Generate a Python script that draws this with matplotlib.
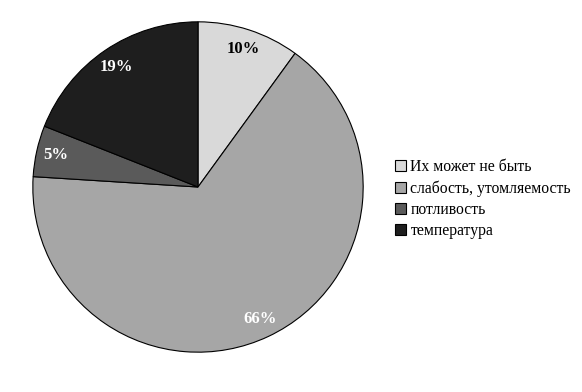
import matplotlib
matplotlib.use('Agg')
import matplotlib.pyplot as plt
from matplotlib.patches import Patch

labels = ['Их может не быть', 'слабость, утомляемость', 'потливость', 'температура']
values = [10, 66, 5, 19]
colors = ['#d9d9d9', '#a6a6a6', '#5a5a5a', '#1e1e1e']
text_colors = ['black', 'white', 'white', 'white']

plt.rcParams['font.family'] = ['Liberation Serif', 'DejaVu Serif']

fig = plt.figure(figsize=(5.82, 3.92), dpi=100)
ax = fig.add_axes([32 / 582, 39 / 392, 332 / 582, 332 / 392])

wedges, texts, autotexts = ax.pie(values, colors=colors, startangle=90, counterclock=False,
                                  autopct='%d%%', pctdistance=0.88,
                                  wedgeprops=dict(edgecolor='black', linewidth=0.8))
for t, c in zip(autotexts, text_colors):
    t.set_color(c)
    t.set_fontsize(12)
    t.set_fontweight('bold')
ax.set_xlim(-1.005, 1.005)
ax.set_ylim(-1.005, 1.005)
ax.set_aspect('equal')

handles = [Patch(facecolor=c, edgecolor='black', linewidth=0.8) for c in colors]
fig.legend(handles, labels, loc='center left', bbox_to_anchor=(381 / 582, 1 - 199 / 392),
           frameon=False, fontsize=11.3, handlelength=0.72, handleheight=0.72,
           handletextpad=0.25, labelspacing=0.33)

fig.savefig('out.png', dpi=100)
